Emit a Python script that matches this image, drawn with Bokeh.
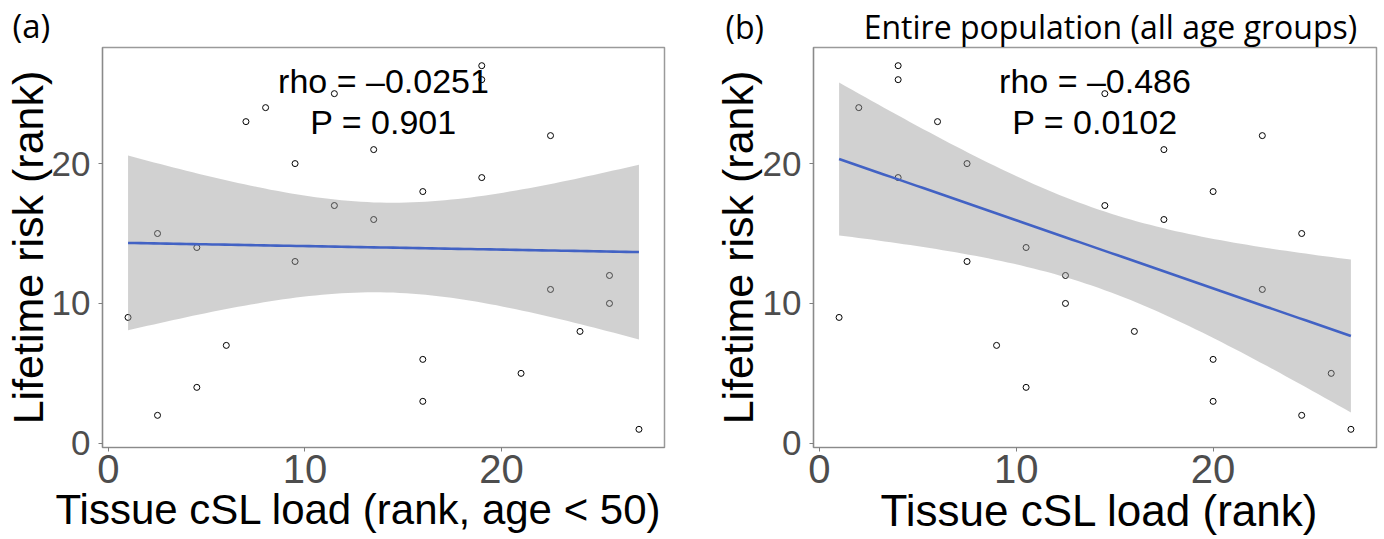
import numpy as np
from bokeh.plotting import figure
from bokeh.layouts import row
from bokeh.models import FixedTicker, Range1d, Title
from bokeh.embed import file_html
from bokeh.resources import INLINE

# ---------------- data ----------------
# Panel (a): age < 50
xa = [1, 2.5, 2.5, 4.5, 4.5, 6, 7, 8, 9.5, 9.5, 11.5, 11.5, 13.5, 13.5,
      16, 16, 16, 19, 19, 19, 21, 22.5, 22.5, 24, 25.5, 25.5, 27]
ya = [9, 15, 2, 14, 4, 7, 23, 24, 20, 13, 25, 17, 21, 16,
      18, 6, 3, 27, 26, 19, 5, 22, 11, 8, 12, 10, 1]
# Panel (b): entire population
xb = [1, 2, 4, 4, 4, 6, 7.5, 7.5, 9, 10.5, 10.5, 12.5, 12.5, 14.5,
      14.5, 16, 17.5, 17.5, 20, 20, 20, 22.5, 22.5, 24.5, 24.5, 26, 27]
yb = [9, 24, 27, 26, 19, 23, 20, 13, 7, 14, 4, 12, 10, 25,
      17, 8, 21, 16, 18, 6, 3, 22, 11, 15, 2, 5, 1]

ticks = [0, 10, 20]
stats_a = ["rho = \u20130.0251", "P = 0.901"]
stats_b = ["rho = \u20130.486", "P = 0.0102"]
ylab = "Lifetime risk (rank)"
xlab_a = "Tissue cSL load (rank, age < 50)"
xlab_b = "Tissue cSL load (rank)"
tag_a = "(a)"
tag_b = "(b)"
title_b = "Entire population (all age groups)"

T975 = 2.0595  # t quantile, df = 25

FONT = "Liberation Sans"


def lm_band(x, y):
    x = np.asarray(x, float)
    y = np.asarray(y, float)
    n = len(x)
    b1, b0 = np.polyfit(x, y, 1)
    res = y - (b0 + b1 * x)
    s = np.sqrt(np.sum(res ** 2) / (n - 2))
    xm = x.mean()
    sxx = np.sum((x - xm) ** 2)
    xs = np.linspace(x.min(), x.max(), 80)
    fit = b0 + b1 * xs
    se = s * np.sqrt(1.0 / n + (xs - xm) ** 2 / sxx)
    return xs, fit, fit - T975 * se, fit + T975 * se


def panel(x, y, stats, width, height, mb_left, mb_right, mb_top,
          mb_bottom, ylab_standoff):
    p = figure(width=width, height=height, output_backend="svg",
               toolbar_location=None, tools="",
               x_range=Range1d(-0.3, 28.3), y_range=Range1d(-0.3, 28.3),
               min_border_left=mb_left, min_border_right=mb_right,
               min_border_top=mb_top, min_border_bottom=mb_bottom)
    p.background_fill_color = "white"
    p.border_fill_color = "white"
    p.xgrid.visible = False
    p.ygrid.visible = False
    p.outline_line_color = "#9a9a9a"
    p.outline_line_width = 1.5

    for ax, fs, so in ((p.xaxis[0], "40px", 3), (p.yaxis[0], "35px", 8)):
        ax.ticker = FixedTicker(ticks=ticks)
        ax.minor_tick_line_color = None
        ax.major_tick_in = 0
        ax.major_tick_out = 4
        ax.major_tick_line_color = "#7f7f7f"
        ax.axis_line_color = "#8a8a8a"
        ax.axis_line_width = 1.2
        ax.major_label_text_font = FONT
        ax.major_label_text_font_size = fs
        ax.major_label_text_color = "#4d4d4d"
        ax.major_label_standoff = so

    ya_ = p.yaxis[0]
    ya_.axis_label = ylab
    ya_.axis_label_text_font = FONT
    ya_.axis_label_text_font_style = "normal"
    ya_.axis_label_text_color = "black"
    ya_.axis_label_text_font_size = "43px"
    ya_.axis_label_standoff = ylab_standoff

    p.scatter(x, y, size=6, marker="circle", fill_color="white",
              line_color="black", line_width=1)
    xs, fit, lo, hi = lm_band(x, y)
    p.varea(x=xs, y1=lo, y2=hi, fill_color="#999999", fill_alpha=0.45)
    p.line(xs, fit, line_color="#4262c4", line_width=2.6)

    p.text(x=[14, 14], y=[25.9, 23.0], text=stats, text_align="center",
           text_baseline="middle", text_font_size="34px",
           text_color="black", text_font={"value": FONT})
    return p


def xtitle(text, offset, size):
    return Title(text=text, align="left", offset=offset,
                 vertical_align="top", standoff=0,
                 text_font=FONT, text_font_size=size,
                 text_font_style="normal", text_color="black")


# ---------------- panel (a) ----------------
pa = panel(xa, ya, stats_a, 700, 539, 102, 36, 47, 92, -3)
pa.title = Title(text=tag_a, align="left", offset=-90, standoff=0,
                 text_font="Open Sans", text_font_size="33px",
                 text_font_style="normal", text_color="black")
pa.add_layout(xtitle(xlab_a, -47, "42px"), "below")

# ---------------- panel (b) ----------------
pb = panel(xb, yb, stats_b, 684, 539, 113, 8, 47, 82, -2)
NB = "\u00a0" * 12
pb.title = Title(text=tag_b + NB + title_b, align="left", offset=-88,
                 standoff=0, text_font="Open Sans", text_font_size="32px",
                 text_font_style="normal", text_color="black")
pb.add_layout(xtitle(xlab_b, 67, "44px"), "below")

layout = row(pa, pb)
open("out.html", "w").write(file_html(layout, INLINE))
